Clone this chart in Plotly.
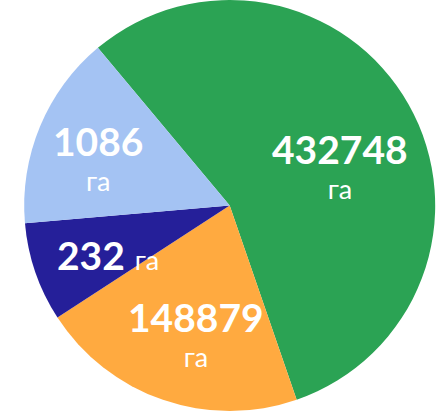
import plotly.graph_objects as go

# Data
categories = ["A", "B", "C", "D"]
shares = [55.8, 21.1, 7.8, 15.3]          # slice sizes (%)
area_labels = ["432748", "148879", "232", "1086"]
unit = "га"

colors = ["#2BA354", "#FFAA40", "#251F99", "#A4C3F3"]

W, H = 446, 411

fig = go.Figure(go.Pie(
    labels=categories,
    values=shares,
    sort=False,
    direction="clockwise",
    rotation=-39.9,
    marker=dict(colors=colors, line=dict(width=0)),
    textinfo="none",
    hoverinfo="skip",
    showlegend=False,
    domain=dict(x=[0.03, 1], y=[0, 1]),
))

# label placement (pixels in the image) — style only
label_pos = [(340, 165), (196, 333), (108, 255), (98, 157)]
two_line = [True, True, False, True]

font_family = "Lato"
num_size = 39
unit_size = 27

ann = []
for i, lab in enumerate(area_labels):
    x, y = label_pos[i]
    if two_line[i]:
        txt = (f"<span style='font-size:{num_size}px'><b>{lab}</b></span><br>"
               f"<span style='font-size:{unit_size}px'>{unit}</span>")
        size = 27
    else:
        txt = f"<b>{lab}</b> <span style='font-size:{unit_size}px'>{unit}</span>"
        size = num_size
    ann.append(dict(
        x=x / W, y=1 - y / H, xref="paper", yref="paper",
        xanchor="center", yanchor="middle", showarrow=False,
        text=txt,
        font=dict(family=font_family, size=size, color="white"),
    ))

fig.update_layout(
    width=W, height=H,
    margin=dict(l=0, r=0, t=0, b=0),
    paper_bgcolor="white",
    plot_bgcolor="white",
    annotations=ann,
)

fig.write_html("out.html", config={"displayModeBar": False},
               post_script="document.body.style.margin='0';")
